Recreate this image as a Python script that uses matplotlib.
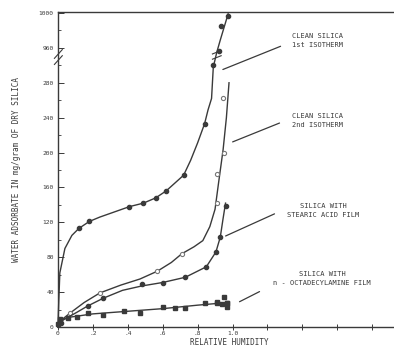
import matplotlib.pyplot as plt
import numpy as np

# --- data (water adsorbed, mg/gram) ---
# clean silica, 1st isotherm: drawn curve and measured points (filled)
iso1_line_x = [0, 0.005, 0.011, 0.04, 0.08, 0.12, 0.18, 0.24, 0.41, 0.49, 0.56, 0.62,
               0.72, 0.76, 0.80, 0.84, 0.86, 0.88, 0.89, 0.91, 0.93, 0.975]
iso1_line_y = [0, 30, 62, 90, 105, 113, 121, 126, 138, 142, 148, 156,
               174, 191, 211, 233, 249, 262, 298, 955, 969, 999]
iso1_pts_x = [0.01, 0.12, 0.18, 0.41, 0.49, 0.56, 0.62, 0.72, 0.84, 0.888, 0.923, 0.934, 0.974]
iso1_pts_y = [6, 113, 121, 138, 142, 148, 156, 174, 233, 300, 956, 985, 996]

# clean silica, 2nd isotherm (open circles)
iso2_line_x = [0, 0.02, 0.07, 0.15, 0.24, 0.36, 0.47, 0.57, 0.65, 0.71, 0.78, 0.83,
               0.87, 0.90, 0.92, 0.946, 0.965, 0.98]
iso2_line_y = [0, 8, 16, 28, 39, 48, 55, 64, 74, 84, 92, 99,
               115, 135, 165, 203, 240, 280]
iso2_pts_x = [0.07, 0.24, 0.57, 0.71, 0.91, 0.91, 0.95, 0.945]
iso2_pts_y = [16, 39, 64, 84, 142, 175, 199, 262]

# silica with stearic acid film
stear_line_x = [0, 0.03, 0.11, 0.17, 0.26, 0.37, 0.48, 0.60, 0.73, 0.85, 0.905, 0.93, 0.945, 0.96]
stear_line_y = [0, 8, 17, 24, 33, 42, 47, 51, 57, 69, 86, 103, 123, 142]
stear_pts_x = [0.02, 0.17, 0.26, 0.48, 0.60, 0.73, 0.85, 0.905, 0.93, 0.96]
stear_pts_y = [5, 24, 33, 49, 50, 57, 69, 86, 103, 139]

# silica with n-octadecylamine film
octa_line_x = [0, 0.02, 0.06, 0.2, 0.4, 0.6, 0.8, 0.97]
octa_line_y = [0, 8, 11, 15, 18, 21, 25, 28]
octa_pts_x = [0.0, 0.01, 0.06, 0.11, 0.17, 0.26, 0.38, 0.47, 0.60, 0.67, 0.73,
              0.84, 0.91, 0.91, 0.94, 0.95, 0.97, 0.97, 0.97]
octa_pts_y = [3, 9, 10, 11, 16, 14, 18, 16, 23, 22, 22,
              27, 28, 29, 26, 34, 27, 23, 28]

ytick_vals = [0, 40, 80, 120, 160, 200, 240, 280, 960, 1000]
xtick_vals = [0, 0.2, 0.4, 0.6, 0.8, 1.0, 1.2, 1.4, 1.6, 1.8]
xtick_text = ['0', '.2', '.4', '.6', '.8', '1.0', '', '', '', '']


def brk(y):
    # broken axis: everything above the break is shifted down by 640
    y = np.asarray(y, float)
    return np.where(y > 600, y - 640, y)


ink = '#3a3a3a'
mono = 'DejaVu Sans Mono'

fig = plt.figure(figsize=(3.94, 3.46), dpi=100)
ax = fig.add_axes([0.147, 0.055, 0.853, 0.91])

ax.plot(iso1_line_x, brk(iso1_line_y), color=ink, lw=1.0, clip_on=False)
ax.plot(iso1_pts_x, brk(iso1_pts_y), 'o', ms=3, color=ink, clip_on=False)

ax.plot(iso2_line_x, brk(iso2_line_y), color=ink, lw=1.0, clip_on=False)
ax.plot(iso2_pts_x, brk(iso2_pts_y), 'o', ms=3, mfc='white', mec='#777777', mew=0.8, clip_on=False)

ax.plot(stear_line_x, brk(stear_line_y), color=ink, lw=1.0, clip_on=False)
ax.plot(stear_pts_x, brk(stear_pts_y), 'o', ms=3, color=ink, clip_on=False)

ax.plot(octa_line_x, brk(octa_line_y), color=ink, lw=1.0, clip_on=False)
ax.plot(octa_pts_x, brk(octa_pts_y), 's', ms=3, color=ink, clip_on=False)

ax.set_xlim(0, 1.925)
ax.set_ylim(0, 361)

ax.set_yticks(brk(ytick_vals))
ax.set_yticklabels([str(v) for v in ytick_vals])
ax.set_yticks(np.arange(20, 361, 40), minor=True)
ax.set_xticks(xtick_vals)
ax.set_xticklabels(xtick_text)

ax.tick_params(axis='y', which='major', direction='in', length=4, width=0.7,
               labelsize=4.5, colors=ink, pad=3)
ax.tick_params(axis='y', which='minor', direction='in', length=2, width=0.6, colors=ink)
ax.tick_params(axis='x', direction='inout', length=5, width=0.7,
               labelsize=4.5, colors=ink, pad=0.5)
for lab in ax.get_xticklabels() + ax.get_yticklabels():
    lab.set_family(mono)

ax.spines['right'].set_visible(False)
for s in ('left', 'bottom', 'top'):
    ax.spines[s].set_color(ink)
    ax.spines[s].set_linewidth(1.0)

# break marks on the y axis and on the 1st isotherm curve
for dy in (-4, 3):
    ax.plot([-0.02, 0.025], [310 + dy - 5, 310 + dy + 5], color=ink, lw=0.8, clip_on=False)
for dy in (-3, 3):
    ax.plot([0.885, 0.935], [311 + dy - 1, 311 + dy + 3], color=ink, lw=0.8)

ax.set_xlabel('RELATIVE HUMIDITY', family=mono, fontsize=5.5, color=ink)
ax.xaxis.set_label_coords(0.51, -0.035, transform=ax.transAxes)
ax.xaxis.label.set_va('top')
ax.set_ylabel('WATER ADSORBATE IN mg/gram OF DRY SILICA', family=mono,
              fontsize=5.5, color=ink)
ax.yaxis.set_label_coords(-0.11, 0.5)

notes = [
    ('CLEAN SILICA\n1st ISOTHERM', (1.484, 328), (1.29, 323), (0.93, 294)),
    ('CLEAN SILICA\n2nd ISOTHERM', (1.484, 237), (1.284, 235), (0.986, 211)),
    ('SILICA WITH\nSTEARIC ACID FILM', (1.52, 133), (1.255, 131), (0.946, 103)),
    ('SILICA WITH\nn - OCTADECYLAMINE FILM', (1.513, 56), (1.169, 42), (1.026, 27.5)),
]
for txt, pos, start, end in notes:
    ax.text(pos[0], pos[1], txt, ha='center', va='center', family=mono,
            fontsize=5, color=ink, linespacing=1.6)
    ax.annotate('', xy=end, xytext=start,
                arrowprops=dict(arrowstyle='-', color=ink, lw=0.9))

fig.savefig('out.png', dpi=100)
